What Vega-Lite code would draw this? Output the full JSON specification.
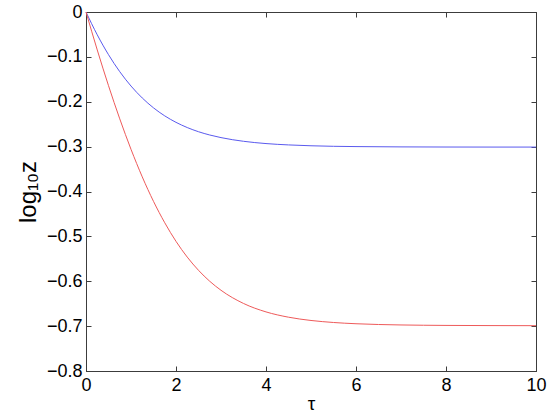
{
  "$schema": "https://vega.github.io/schema/vega-lite/v6.json",
  "width": 450,
  "height": 359,
  "autosize": "none",
  "padding": {"left": 86, "top": 12, "right": 14, "bottom": 49},
  "background": "white",
  "config": {
    "view": {"stroke": "#3c3c3c", "strokeWidth": 1},
    "font": "Liberation Sans",
    "axis": {
      "grid": false,
      "domainColor": "#3c3c3c",
      "tickColor": "#3c3c3c",
      "labelColor": "black",
      "titleColor": "black",
      "labelFont": "Liberation Sans",
      "titleFont": "Liberation Sans",
      "labelFontSize": 18,
      "titleFontWeight": "normal"
    }
  },
  "data": {
    "values": [
      {"t": 0, "v": 0, "s": "a"},
      {"t": 0.25, "v": -0.0509, "s": "a"},
      {"t": 0.5, "v": -0.0951, "s": "a"},
      {"t": 0.75, "v": -0.1330, "s": "a"},
      {"t": 1, "v": -0.1650, "s": "a"},
      {"t": 1.25, "v": -0.1916, "s": "a"},
      {"t": 1.5, "v": -0.2136, "s": "a"},
      {"t": 1.75, "v": -0.2315, "s": "a"},
      {"t": 2, "v": -0.2459, "s": "a"},
      {"t": 2.25, "v": -0.2575, "s": "a"},
      {"t": 2.5, "v": -0.2668, "s": "a"},
      {"t": 2.75, "v": -0.2741, "s": "a"},
      {"t": 3, "v": -0.2799, "s": "a"},
      {"t": 3.5, "v": -0.2881, "s": "a"},
      {"t": 4, "v": -0.2932, "s": "a"},
      {"t": 4.5, "v": -0.2962, "s": "a"},
      {"t": 5, "v": -0.2981, "s": "a"},
      {"t": 5.5, "v": -0.2993, "s": "a"},
      {"t": 6, "v": -0.2999, "s": "a"},
      {"t": 7, "v": -0.3006, "s": "a"},
      {"t": 8, "v": -0.3009, "s": "a"},
      {"t": 9, "v": -0.3010, "s": "a"},
      {"t": 10, "v": -0.3010, "s": "a"},
      {"t": 0, "v": 0, "s": "b"},
      {"t": 0.25, "v": -0.0846, "s": "b"},
      {"t": 0.5, "v": -0.1642, "s": "b"},
      {"t": 0.75, "v": -0.2381, "s": "b"},
      {"t": 1, "v": -0.3060, "s": "b"},
      {"t": 1.25, "v": -0.3674, "s": "b"},
      {"t": 1.5, "v": -0.4220, "s": "b"},
      {"t": 1.75, "v": -0.4697, "s": "b"},
      {"t": 2, "v": -0.5111, "s": "b"},
      {"t": 2.25, "v": -0.5462, "s": "b"},
      {"t": 2.5, "v": -0.5756, "s": "b"},
      {"t": 2.75, "v": -0.6001, "s": "b"},
      {"t": 3, "v": -0.6201, "s": "b"},
      {"t": 3.5, "v": -0.6495, "s": "b"},
      {"t": 4, "v": -0.6683, "s": "b"},
      {"t": 4.5, "v": -0.6801, "s": "b"},
      {"t": 5, "v": -0.6874, "s": "b"},
      {"t": 5.5, "v": -0.6919, "s": "b"},
      {"t": 6, "v": -0.6947, "s": "b"},
      {"t": 7, "v": -0.6974, "s": "b"},
      {"t": 8, "v": -0.6984, "s": "b"},
      {"t": 9, "v": -0.6988, "s": "b"},
      {"t": 10, "v": -0.6990, "s": "b"}
    ]
  },
  "layer": [
    {
      "mark": {"type": "line", "strokeWidth": 1, "interpolate": "monotone"},
      "encoding": {
        "x": {
          "field": "t", "type": "quantitative",
          "scale": {"domain": [0, 10], "nice": false},
          "axis": {"orient": "bottom", "values": [0, 2, 4, 6, 8, 10], "tickSize": -5, "labelPadding": 10, "labelFlush": false, "title": "τ", "titleFontSize": 19, "titlePadding": 0}
        },
        "y": {
          "field": "v", "type": "quantitative",
          "scale": {"domain": [-0.8, 0], "nice": false, "zero": false},
          "axis": {"orient": "left", "values": [0, -0.1, -0.2, -0.3, -0.4, -0.5, -0.6, -0.7, -0.8], "format": ".1~f", "labelExpr": "replace(datum.label, '-', '−')", "tickSize": -5, "labelPadding": 9, "labelFlush": false, "title": "log₁₀z", "titleFontSize": 24, "titlePadding": 6}
        },
        "color": {
          "field": "s", "type": "nominal",
          "scale": {"domain": ["a", "b"], "range": ["#5a5aee", "#ee5a5a"]},
          "legend": null
        }
      }
    },
    {
      "mark": {"type": "line", "opacity": 0},
      "encoding": {
        "x": {
          "field": "t", "type": "quantitative",
          "axis": {"orient": "top", "values": [0, 2, 4, 6, 8, 10], "tickSize": -5, "labels": false, "title": null}
        },
        "y": {
          "field": "v", "type": "quantitative",
          "axis": {"orient": "right", "values": [0, -0.1, -0.2, -0.3, -0.4, -0.5, -0.6, -0.7, -0.8], "tickSize": -5, "labels": false, "title": null}
        },
        "detail": {"field": "s"}
      }
    }
  ],
  "resolve": {"axis": {"x": "independent", "y": "independent"}}
}
